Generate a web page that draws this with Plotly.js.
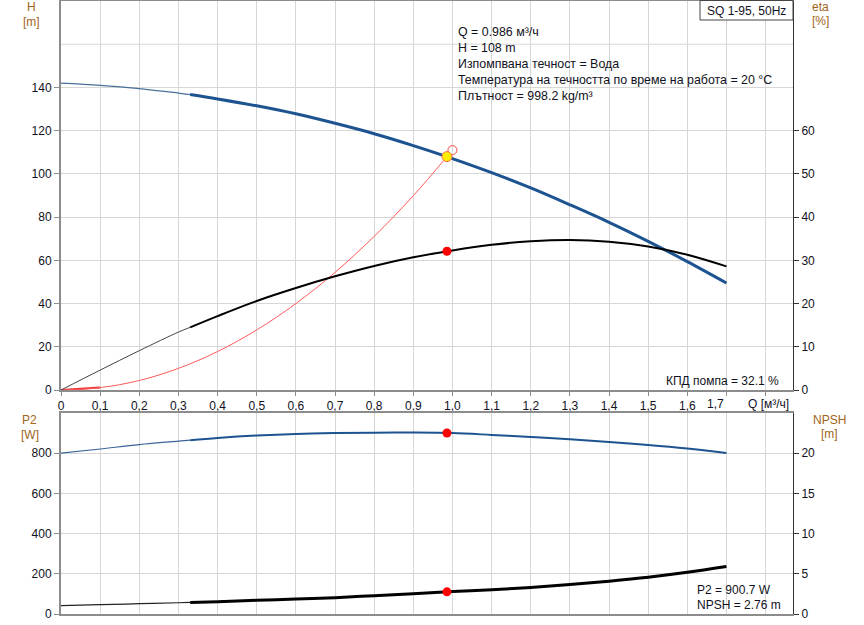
<!DOCTYPE html>
<html>
<head>
<meta charset="utf-8">
<script src="https://cdn.plot.ly/plotly-3.0.1.min.js"></script>
<style>html,body{margin:0;padding:0;background:#fff;}#chart{width:864px;height:625px;}</style>
</head>
<body>
<div id="chart"></div>
<script>
// ---- data ----
const Q      = [0, 0.1, 0.2, 0.3, 0.33, 0.4, 0.5, 0.6, 0.7, 0.8, 0.9, 1.0, 1.1, 1.2, 1.3, 1.4, 1.5, 1.6, 1.7];
const H      = [142.0, 141.0, 139.5, 137.4, 136.7, 134.7, 131.5, 127.8, 123.4, 118.6, 113.1, 107.1, 100.6, 93.5, 85.7, 77.6, 68.8, 59.4, 49.5];
const ETA    = [0, 4.6, 9.1, 13.4, 14.5, 17.1, 20.6, 23.6, 26.3, 28.7, 30.7, 32.3, 33.6, 34.4, 34.7, 34.3, 33.2, 31.3, 28.6];
const P2     = [800, 821, 843, 860, 865, 876, 888, 896, 900, 902, 902.5, 900, 891, 881, 870, 856, 841, 823, 801];
const NPSH   = [1.03, 1.16, 1.28, 1.40, 1.44, 1.53, 1.70, 1.86, 2.03, 2.28, 2.53, 2.79, 3.02, 3.30, 3.66, 4.08, 4.57, 5.18, 5.90];
const SPLIT  = 4; // index of Q = 0.33 where thin part ends

const sysQ   = [0, 0.1, 0.2, 0.3, 0.4, 0.5, 0.6, 0.7, 0.8, 0.9, 0.986];
const sysH   = [0, 1.1, 4.4, 10.0, 17.8, 27.8, 40.0, 54.4, 71.1, 89.9, 108];

const opQ = 0.986, opH = 108, opEta = 32.1, opP2 = 900.7, opNPSH = 2.76;
const reqQ = 1.0, reqH = 111;

const xTicks     = [0, 0.1, 0.2, 0.3, 0.4, 0.5, 0.6, 0.7, 0.8, 0.9, 1.0, 1.1, 1.2, 1.3, 1.4, 1.5, 1.6, 1.7, 1.8];
const xTickText  = ['0','0,1','0,2','0,3','0,4','0,5','0,6','0,7','0,8','0,9','1,0','1,1','1,2','1,3','1,4','1,5','1,6','',''];
const hTicks     = [0, 20, 40, 60, 80, 100, 120, 140];
const etaTicks   = [0, 10, 20, 30, 40, 50, 60];
const p2Ticks    = [0, 200, 400, 600, 800];
const npshTicks  = [0, 5, 10, 15, 20];

const infoLines = ['Q = 0.986 м³/ч', 'H = 108 m', 'Изпомпвана течност = Вода',
                   'Температура на течността по време на работа = 20 °C', 'Плътност = 998.2 kg/m³'];

// ---- layout helpers (pixel -> paper) ----
const L = 61, R = 793, T = 1, B = 614;
const px = x => (x - L) / (R - L);
const py = y => (B - y) / (B - T);

const blue = '#1c5390', gridc = '#d6d6d6', axc = '#8c8c8c', titc = '#a0651a', txt = '#111122';
const FONT = 'Liberation Sans, Arial, Helvetica, sans-serif';

const traces = [
  {x: sysQ.slice(0,2), y: sysH.slice(0,2), xaxis:'x', yaxis:'y', mode:'lines', line:{color:'#e83030', width:2}, hoverinfo:'skip'},
  {x: sysQ, y: sysH, xaxis:'x', yaxis:'y', mode:'lines', line:{color:'#ff5a5a', width:1, shape:'spline'}, hoverinfo:'skip'},
  {x: Q.slice(0,SPLIT+1), y: ETA.slice(0,SPLIT+1), xaxis:'x', yaxis:'y2', mode:'lines', line:{color:'#444', width:1, shape:'spline'}},
  {x: Q.slice(SPLIT), y: ETA.slice(SPLIT), xaxis:'x', yaxis:'y2', mode:'lines', line:{color:'#000', width:2, shape:'spline'}},
  {x: Q.slice(0,SPLIT+1), y: H.slice(0,SPLIT+1), xaxis:'x', yaxis:'y', mode:'lines', line:{color:'#4a709c', width:1.2, shape:'spline'}},
  {x: Q.slice(SPLIT), y: H.slice(SPLIT), xaxis:'x', yaxis:'y', mode:'lines', line:{color:blue, width:3, shape:'spline'}},
  {x: [reqQ], y: [reqH], xaxis:'x', yaxis:'y', mode:'markers', marker:{size:9, color:'rgba(0,0,0,0)', line:{color:'#ff4a4a', width:1}}},
  {x: [opQ], y: [opH], xaxis:'x', yaxis:'y', mode:'markers', marker:{size:10, color:'#ffee00', line:{color:'#ff7050', width:1}}},
  {x: [opQ], y: [opEta], xaxis:'x', yaxis:'y2', mode:'markers', marker:{size:9, color:'#ff0000'}},
  {x: Q.slice(0,SPLIT+1), y: P2.slice(0,SPLIT+1), xaxis:'x2', yaxis:'y3', mode:'lines', line:{color:'#3a6598', width:1.2, shape:'spline'}},
  {x: Q.slice(SPLIT), y: P2.slice(SPLIT), xaxis:'x2', yaxis:'y3', mode:'lines', line:{color:blue, width:2, shape:'spline'}},
  {x: Q.slice(0,SPLIT+1), y: NPSH.slice(0,SPLIT+1), xaxis:'x2', yaxis:'y4', mode:'lines', line:{color:'#222', width:1.2, shape:'spline'}},
  {x: Q.slice(SPLIT), y: NPSH.slice(SPLIT), xaxis:'x2', yaxis:'y4', mode:'lines', line:{color:'#000', width:3, shape:'spline'}},
  {x: [opQ], y: [opP2], xaxis:'x2', yaxis:'y3', mode:'markers', marker:{size:9, color:'#ff0000'}},
  {x: [opQ], y: [opNPSH], xaxis:'x2', yaxis:'y4', mode:'markers', marker:{size:9, color:'#ff0000'}}
];

const ann = [];
const addText = (text, x, y, xanchor, color, size) => ann.push({
  text, xref:'paper', yref:'paper', x: px(x), y: py(y), xanchor: xanchor || 'left', yanchor:'middle',
  showarrow:false, font:{family:FONT, size: size || 12, color: color || txt}, borderpad:0
});

infoLines.forEach((t, i) => addText(t, 457, 32 + i * 16, 'left', txt, 12.4));
addText('SQ 1-95, 50Hz', 746, 11, 'center');
addText('КПД помпа = 32.1 %', 780, 381, 'right');
addText('P2 = 900.7 W', 696, 590, 'left');
addText('NPSH = 2.76 m', 696, 605, 'left');
addText('1,7', 715, 404, 'center');
addText('Q [м³/ч]', 768, 404, 'center');
addText('H', 31, 7, 'center', titc);
addText('[m]', 31, 22, 'center', titc);
addText('eta', 820, 7, 'center', titc);
addText('[%]', 820, 21, 'center', titc);
addText('P2', 29, 420, 'center', titc);
addText('[W]', 30, 435, 'center', titc);
addText('NPSH', 829, 420, 'center', titc);
addText('[m]', 829, 434, 'center', titc);

const topDom = [py(390), 1];
const botDom = [0, py(413)];

const layout = {
  width: 864, height: 625,
  margin: {l: L, r: 864 - R, t: T, b: 625 - B, pad: 0},
  paper_bgcolor: '#fff', plot_bgcolor: '#fff',
  showlegend: false,
  font: {family: FONT, size: 12, color: txt},
  xaxis: {anchor:'y', domain:[0,1], range:[0,1.87], tickmode:'array', tickvals:xTicks, ticktext:xTickText,
          showgrid:true, gridcolor:gridc, gridwidth:1, zeroline:false, showline:true, linecolor:axc, linewidth:2,
          mirror:true, ticks:'outside', ticklen:4, tickcolor:axc, tickfont:{size:12, color:txt}},
  yaxis: {domain: topDom, range:[0,180], tickmode:'array', tickvals:hTicks, showgrid:true, gridcolor:gridc,
          zeroline:false, showline:true, linecolor:axc, linewidth:2, ticks:'outside', ticklen:5, tickcolor:axc,
          tickfont:{size:12, color:txt}},
  yaxis2: {overlaying:'y', side:'right', anchor:'x', range:[0,90], tickmode:'array', tickvals:etaTicks, showgrid:false,
          zeroline:false, showline:true, linecolor:'#333', linewidth:1, ticks:'outside', ticklen:5, tickcolor:'#333',
          tickfont:{size:12, color:txt}},
  xaxis2: {anchor:'y3', domain:[0,1], matches:'x', range:[0,1.87], tickmode:'array', tickvals:xTicks, showticklabels:false,
          showgrid:true, gridcolor:gridc, zeroline:false, showline:true, linecolor:axc, linewidth:2, mirror:true, ticks:''},
  yaxis3: {domain: botDom, range:[0,1000], tickmode:'array', tickvals:p2Ticks, showgrid:true, gridcolor:gridc,
          zeroline:false, showline:true, linecolor:axc, linewidth:2, ticks:'outside', ticklen:5, tickcolor:axc,
          tickfont:{size:12, color:txt}},
  yaxis4: {overlaying:'y3', side:'right', anchor:'x2', range:[0,25], tickmode:'array', tickvals:npshTicks, showgrid:false,
          zeroline:false, showline:true, linecolor:'#333', linewidth:1, ticks:'outside', ticklen:5, tickcolor:'#333',
          tickfont:{size:12, color:txt}},
  shapes: [
    {type:'line', xref:'paper', yref:'y', x0:0, x1:1, y0:160, y1:160, line:{color:gridc, width:1}, layer:'below'},
    {type:'rect', xref:'paper', yref:'paper', x0:px(700), x1:1, y0:py(20), y1:py(0.5), line:{color:'#444', width:1}, fillcolor:'#fff'}
  ],
  annotations: ann
};

Plotly.newPlot('chart', traces, layout, {staticPlot:true, displayModeBar:false});
</script>
</body>
</html>
